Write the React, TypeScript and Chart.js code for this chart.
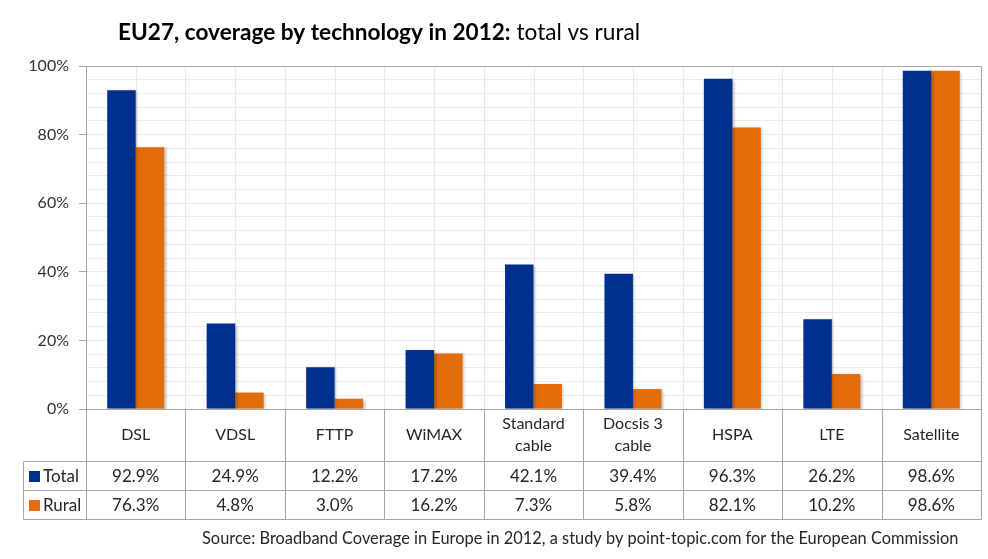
import React, { useEffect, useRef } from "react";
import { Chart, registerables } from "chart.js";

Chart.register(...registerables);

const categories: string[][] = [
  ["DSL"],
  ["VDSL"],
  ["FTTP"],
  ["WiMAX"],
  ["Standard", "cable"],
  ["Docsis 3", "cable"],
  ["HSPA"],
  ["LTE"],
  ["Satellite"],
];
const totalValues = [92.9, 24.9, 12.2, 17.2, 42.1, 39.4, 96.3, 26.2, 98.6];
const ruralValues = [76.3, 4.8, 3.0, 16.2, 7.3, 5.8, 82.1, 10.2, 98.6];
const seriesNames = ["Total", "Rural"];
const seriesColors = ["#00308F", "#E46C0A"];
const yMin = 0;
const yMax = 100;
const yMinorStep = 4;
const yMajorStep = 20;
const titleBold = "EU27, coverage by technology in 2012:";
const titleRest = " total vs rural";
const sourceText =
  "Source: Broadband Coverage in Europe in 2012, a study by point-topic.com for the European Commission";

const FONT = 'Lato, "Open Sans", sans-serif';
const LINE = "#a6a6a6";
const TEXT = "#262626";

function fitSize(ctx: CanvasRenderingContext2D, text: string, weight: string, target: number) {
  ctx.font = `${weight} 100px ${FONT}`;
  const w = ctx.measureText(text).width;
  return (100 * target) / w;
}

const tablePlugin = {
  id: "tablePlugin",
  beforeDatasetsDraw(chart: any) {
    const { ctx, chartArea } = chart;
    const { left, right, top, bottom } = chartArea;
    const n = categories.length;
    const cw = (right - left) / n;
    ctx.save();
    ctx.strokeStyle = "#e8e8e8";
    ctx.lineWidth = 1;
    for (let i = 1; i < n * 2; i++) {
      const x = Math.round(left + (i * cw) / 2) + 0.5;
      ctx.beginPath();
      ctx.moveTo(x, top);
      ctx.lineTo(x, bottom);
      ctx.stroke();
    }
    ctx.restore();
  },
  beforeDatasetDraw(chart: any) {
    const ctx = chart.ctx;
    ctx.save();
    ctx.shadowColor = "rgba(0,0,0,0.28)";
    ctx.shadowBlur = 3;
    ctx.shadowOffsetX = 1.5;
    ctx.shadowOffsetY = 1;
  },
  afterDatasetDraw(chart: any) {
    chart.ctx.restore();
  },
  afterDraw(chart: any) {
    const { ctx, chartArea } = chart;
    const { left, right, top, bottom } = chartArea;
    const n = categories.length;
    const cw = (right - left) / n;
    const r1 = 461.5;
    const r2 = 490.5;
    const r3 = 519.5;
    const legL = 23.5;
    const px = (v: number) => Math.round(v) + 0.5;

    ctx.save();
    ctx.strokeStyle = LINE;
    ctx.lineWidth = 1;
    const line = (x1: number, y1: number, x2: number, y2: number) => {
      ctx.beginPath();
      ctx.moveTo(x1, y1);
      ctx.lineTo(x2, y2);
      ctx.stroke();
    };
    // plot border
    line(px(left), px(top), px(right), px(top));
    line(px(right), px(top), px(right), r3);
    line(px(left), px(top), px(left), r3);
    // table lines
    line(px(left) - 7, px(bottom), px(right), px(bottom));
    line(legL, r1, px(right), r1);
    line(legL, r2, px(right), r2);
    line(legL, r3, px(right), r3);
    line(legL, r1, legL, r3);
    for (let i = 1; i < n; i++) {
      const x = px(left + i * cw);
      line(x, px(bottom), x, r3);
    }

    // category labels
    ctx.fillStyle = TEXT;
    ctx.textAlign = "center";
    ctx.textBaseline = "middle";
    ctx.font = `16px ${FONT}`;
    const catMid = (bottom + r1) / 2;
    categories.forEach((lines, i) => {
      const cx = left + (i + 0.5) * cw;
      const lh = 22;
      lines.forEach((t, j) => {
        const y = catMid + (j - (lines.length - 1) / 2) * lh;
        ctx.fillText(t, cx, y);
      });
    });
    // values
    ctx.font = `17px ${FONT}`;
    const rows = [totalValues, ruralValues];
    const rowMid = [(r1 + r2) / 2, (r2 + r3) / 2];
    rows.forEach((vals, ri) => {
      vals.forEach((v, i) => {
        const cx = left + (i + 0.5) * cw;
        ctx.fillText(v.toFixed(1) + "%", cx, rowMid[ri] + 1);
      });
      ctx.fillStyle = seriesColors[ri];
      ctx.fillRect(29, Math.round(rowMid[ri] - 5.5), 11, 11);
      ctx.fillStyle = TEXT;
      ctx.textAlign = "left";
      ctx.fillText(seriesNames[ri], 43, rowMid[ri] + 1);
      ctx.textAlign = "center";
    });

    // title
    ctx.textAlign = "left";
    ctx.textBaseline = "alphabetic";
    ctx.fillStyle = "#000000";
    const ts = fitSize(ctx, titleBold, "bold", 393);
    ctx.font = `bold ${ts}px ${FONT}`;
    ctx.fillText(titleBold, 118, 40);
    const bw = ctx.measureText(titleBold).width;
    ctx.font = `${ts}px ${FONT}`;
    ctx.fillText(titleRest, 118 + bw, 40);

    // source
    ctx.fillStyle = "#262626";
    const ss = fitSize(ctx, sourceText, "normal", 757);
    ctx.font = `${ss}px ${FONT}`;
    ctx.fillText(sourceText, 202, 544);
    ctx.restore();
  },
};

export default function App() {
  const ref = useRef<HTMLCanvasElement>(null);
  useEffect(() => {
    if (!ref.current) return;
    const chart = new Chart(ref.current, {
      type: "bar",
      data: {
        labels: categories.map((c) => c.join(" ")),
        datasets: [
          {
            label: seriesNames[0],
            data: totalValues,
            backgroundColor: seriesColors[0],
            categoryPercentage: 0.573,
            barPercentage: 1,
          },
          {
            label: seriesNames[1],
            data: ruralValues,
            backgroundColor: seriesColors[1],
            categoryPercentage: 0.573,
            barPercentage: 1,
          },
        ],
      },
      options: {
        animation: false,
        responsive: false,
        maintainAspectRatio: false,
        layout: { padding: { top: 66, bottom: 150, right: 7, left: 0 } },
        plugins: {
          legend: { display: false },
          title: { display: false },
          tooltip: { enabled: false },
        },
        scales: {
          x: { display: false },
          y: {
            min: yMin,
            max: yMax,
            afterFit: (s: any) => {
              s.width = 86;
            },
            ticks: {
              stepSize: yMinorStep,
              autoSkip: false,
              padding: 10,
              color: "#333333",
              font: { family: FONT, size: 16 },
              callback: (v: any) => (Number(v) % yMajorStep === 0 ? v + "%" : ""),
            },
            grid: {
              color: "#ebebeb",
              tickLength: 7,
              tickColor: (c: any) =>
                c.tick && c.tick.value % yMajorStep === 0 ? LINE : "rgba(0,0,0,0)",
            },
            border: { display: true, color: LINE },
          },
        },
      },
      plugins: [tablePlugin],
    });
    return () => chart.destroy();
  }, []);
  return (
    <div style={{ position: "absolute", left: 0, top: 0, width: 988, height: 559, background: "#fff" }}>
      <canvas ref={ref} width={988} height={559} style={{ width: 988, height: 559 }} />
    </div>
  );
}
